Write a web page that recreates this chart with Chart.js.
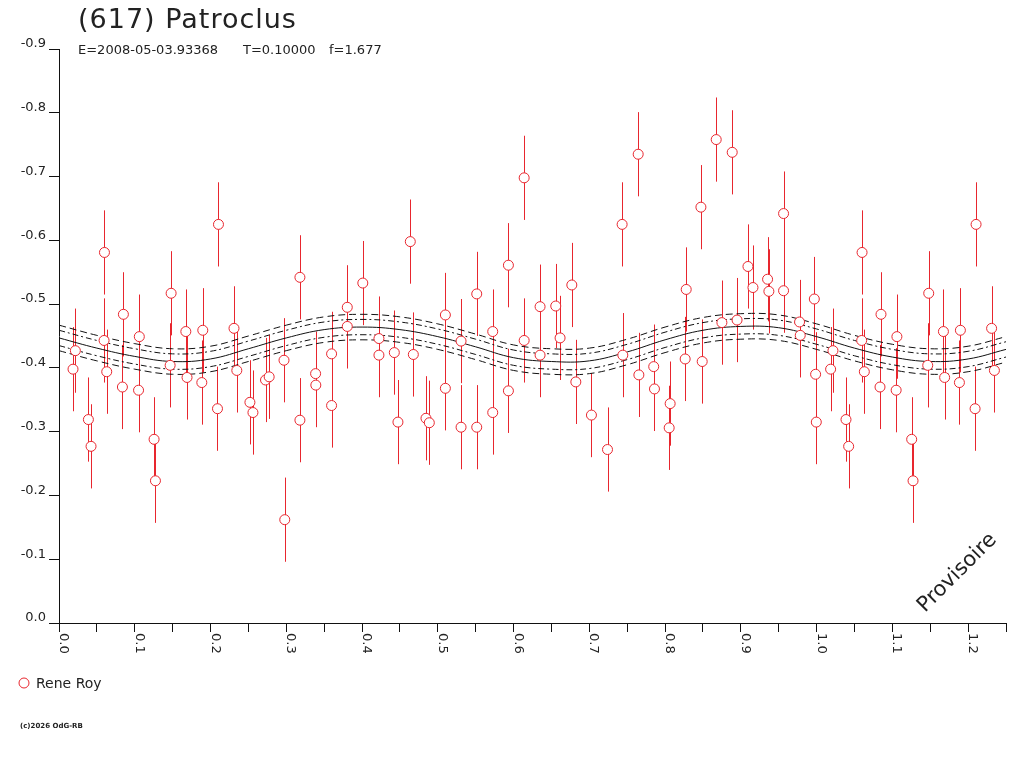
<!DOCTYPE html>
<html>
<head>
<meta charset="utf-8">
<title>(617) Patroclus</title>
<script src="https://cdn.jsdelivr.net/npm/chart.js@4.4.1/dist/chart.umd.min.js"></script>
<style>
  html, body { margin: 0; padding: 0; background: #fff; }
  canvas { display: block; }
</style>
</head>
<body>
<canvas id="lightcurve" width="1024" height="768" style="width:1024px;height:768px"></canvas>
<script>
var obsPhase = [
  0.0185, 0.0216, 0.0388, 0.0423, 0.0595, 0.0600, 0.0630, 0.0850, 0.0837, 0.1060, 0.1050, 0.1255, 0.1273, 0.1480, 0.1467, 0.1674,
  0.1690, 0.1898, 0.1885, 0.2105, 0.2092, 0.2310, 0.2347, 0.2520, 0.2560, 0.2726, 0.2774, 0.2970, 0.2980, 0.3180, 0.3180,
  0.3387, 0.3390, 0.3598, 0.3598, 0.3805, 0.3805, 0.4010, 0.4223, 0.4223, 0.4426, 0.4474, 0.4637, 0.4677, 0.4844, 0.4888,
  0.5100, 0.5100, 0.5307, 0.5307, 0.5514, 0.5514, 0.5725, 0.5725, 0.5932, 0.5932, 0.6140, 0.6140, 0.6350, 0.6350,
  0.6557, 0.6614, 0.6769, 0.6822, 0.7028, 0.7240, 0.7433, 0.7442, 0.7645, 0.7654, 0.7850, 0.7860, 0.8067, 0.8054,
  0.8279, 0.8265, 0.8473, 0.8490, 0.8675, 0.8750, 0.8886, 0.8950, 0.9094, 0.9160, 0.9353, 0.9370, 0.9564, 0.9564,
  0.9775, 0.9784, 0.9970, 0.9987, 0.9996
];
var obsMag = [
  -0.398, -0.427, -0.319, -0.277, -0.443, -0.581, -0.394, -0.484, -0.370, -0.449, -0.365, -0.288, -0.223, -0.517, -0.404, -0.457,
  -0.385, -0.459, -0.377, -0.625, -0.336, -0.462, -0.396, -0.346, -0.330, -0.381, -0.386, -0.412, -0.162, -0.542, -0.318,
  -0.391, -0.373, -0.422, -0.341, -0.495, -0.465, -0.533, -0.446, -0.420, -0.424, -0.315, -0.598, -0.421, -0.321, -0.314,
  -0.483, -0.368, -0.442, -0.307, -0.516, -0.307, -0.457, -0.330, -0.561, -0.364, -0.698, -0.443, -0.496, -0.420,
  -0.497, -0.447, -0.530, -0.378, -0.326, -0.272, -0.625, -0.420, -0.735, -0.389, -0.402, -0.367, -0.344, -0.306,
  -0.523, -0.414, -0.652, -0.410, -0.758, -0.471, -0.738, -0.475, -0.559, -0.526, -0.539, -0.520, -0.642, -0.521,
  -0.472, -0.451, -0.508, -0.390, -0.315
];
var obsErr = 0.066;   // error bars all look the same length

// fitted curve, read every 0.05 in phase
var fitPhase = [0, 0.05, 0.10, 0.15, 0.20, 0.25, 0.30, 0.35, 0.40, 0.45, 0.50, 0.55, 0.60,
                0.65, 0.70, 0.75, 0.80, 0.85, 0.90, 0.95, 1.00, 1.05, 1.10, 1.15, 1.20, 1.25];
var fitMag = [-0.447, -0.431, -0.418, -0.410, -0.414, -0.430, -0.447, -0.460, -0.464, -0.460, -0.449, -0.433, -0.416,
              -0.410, -0.411, -0.425, -0.444, -0.459, -0.465, -0.463, -0.449, -0.431, -0.417, -0.410, -0.414, -0.429];
var innerBand = 0.012;
var outerBand = 0.020;

var xTickLabels = ['0.0', '0.1', '0.2', '0.3', '0.4', '0.5', '0.6', '0.7', '0.8', '0.9', '1.0', '1.1', '1.2'];
var phaseMax = 1.25;

var RED = '#e8262e';
var FONT = '"DejaVu Sans", "Liberation Sans", sans-serif';

// points, plus the first quarter repeated after phase 1
var points = [];
obsPhase.forEach(function (p, i) { points.push({ x: p, y: obsMag[i] }); });
obsPhase.forEach(function (p, i) {
  if (p + 1 <= phaseMax) points.push({ x: p + 1, y: obsMag[i] });
});

function curve(offset) {
  return fitPhase.map(function (p, i) { return { x: p, y: fitMag[i] + offset }; });
}
function curveSet(offset, dash) {
  return {
    type: 'line', data: curve(offset), borderColor: '#111', borderWidth: 1,
    borderDash: dash, pointRadius: 0, tension: 0.4, fill: false
  };
}

var errorBars = {
  id: 'errorBars',
  beforeDatasetsDraw: function (chart) {
    var ctx = chart.ctx, area = chart.chartArea, x = chart.scales.x, y = chart.scales.y;
    ctx.save();
    ctx.beginPath();
    ctx.rect(area.left, area.top, area.right - area.left, area.bottom - area.top);
    ctx.clip();
    ctx.strokeStyle = RED;
    ctx.lineWidth = 1;
    chart.data.datasets[0].data.forEach(function (pt) {
      var px = Math.round(x.getPixelForValue(pt.x)) + 0.5;
      ctx.beginPath();
      ctx.moveTo(px, y.getPixelForValue(pt.y - obsErr));
      ctx.lineTo(px, y.getPixelForValue(pt.y + obsErr));
      ctx.stroke();
    });
    ctx.restore();
  }
};

var decorations = {
  id: 'decorations',
  afterDraw: function (chart) {
    var ctx = chart.ctx, x = chart.scales.x;
    ctx.save();
    ctx.fillStyle = '#222';
    ctx.textAlign = 'left';
    ctx.textBaseline = 'alphabetic';

    // title block
    ctx.font = '27px ' + FONT;
    ctx.letterSpacing = '1px';
    ctx.fillText('(617) Patroclus', 78, 28);
    ctx.letterSpacing = '0px';
    ctx.font = '13px ' + FONT;
    ctx.fillText('E=2008-05-03.93368', 78, 54);
    ctx.fillText('T=0.10000', 243, 54);
    ctx.fillText('f=1.677', 329, 54);

    // x labels, turned clockwise
    ctx.font = '13px ' + FONT;
    xTickLabels.forEach(function (lab) {
      var px = x.getPixelForValue(parseFloat(lab));
      ctx.save();
      ctx.translate(px + 1, x.top + 10);
      ctx.rotate(Math.PI / 2);
      ctx.fillText(lab, 0, 0);
      ctx.restore();
    });

    // legend
    ctx.strokeStyle = RED;
    ctx.lineWidth = 1;
    ctx.beginPath();
    ctx.arc(24, 683, 5, 0, Math.PI * 2);
    ctx.stroke();
    ctx.font = '14px ' + FONT;
    ctx.fillText('Rene Roy', 36, 688);

    // footer
    ctx.font = 'bold 7px ' + FONT;
    ctx.fillText('(c)2026 OdG-RB', 20, 728);

    // watermark
    ctx.font = '21px ' + FONT;
    ctx.translate(925, 613);
    ctx.rotate(-Math.PI / 4);
    ctx.fillText('Provisoire', 0, 0);
    ctx.restore();
  }
};

new Chart(document.getElementById('lightcurve'), {
  type: 'scatter',
  data: {
    datasets: [
      {
        label: 'Rene Roy', data: points, pointStyle: 'circle', pointRadius: 5,
        borderColor: RED, backgroundColor: '#fff', borderWidth: 1
      },
      curveSet(0, []),
      curveSet(innerBand, [6, 3, 2, 3]),
      curveSet(-innerBand, [6, 3, 2, 3]),
      curveSet(outerBand, [7, 4]),
      curveSet(-outerBand, [7, 4])
    ]
  },
  options: {
    responsive: false,
    animation: false,
    layout: { padding: { top: 49, right: 18, left: 0, bottom: 0 } },
    plugins: { legend: { display: false }, tooltip: { enabled: false } },
    scales: {
      x: {
        type: 'linear', position: 'bottom', min: 0, max: phaseMax,
        afterFit: function (s) { s.height = 145; },
        ticks: { stepSize: 0.05, display: false, autoSkip: false },
        grid: { drawOnChartArea: false, drawTicks: true, tickLength: 9, color: '#111' },
        border: { color: '#111', width: 1 }
      },
      y: {
        type: 'linear', position: 'left', min: -0.9, max: 0, reverse: true,
        afterFit: function (s) { s.width = 59; },
        ticks: {
          stepSize: 0.1, padding: 3, labelOffset: -5, color: '#222',
          font: { family: FONT, size: 13 },
          callback: function (v) { return Math.abs(v) < 1e-9 ? '0.0' : v.toFixed(1); }
        },
        grid: { drawOnChartArea: false, drawTicks: true, tickLength: 10, color: '#111' },
        border: { color: '#111', width: 1 }
      }
    }
  },
  plugins: [errorBars, decorations]
});
</script>
</body>
</html>
